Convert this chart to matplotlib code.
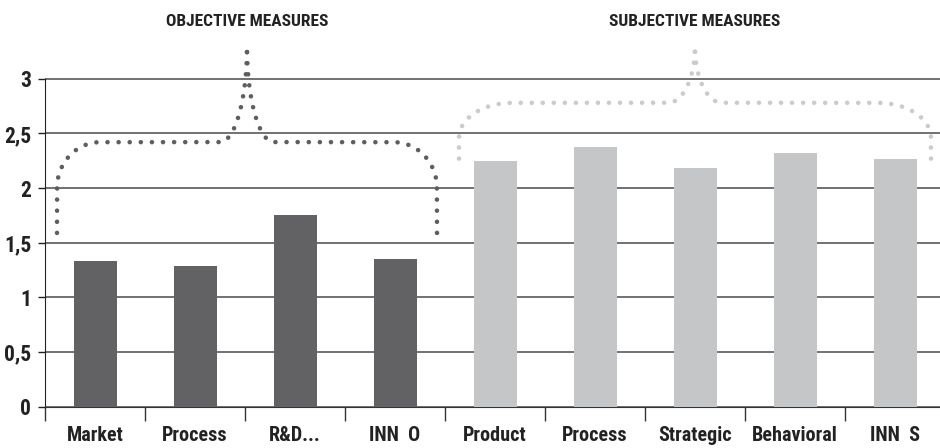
import numpy as np
import matplotlib
matplotlib.use("Agg")
import matplotlib.pyplot as plt
from matplotlib import font_manager

# pick a condensed face if one is installed
cond = [f for f in font_manager.fontManager.ttflist if f.stretch == "condensed"]
prefer = ["Liberation Sans Narrow", "Roboto Condensed", "DejaVu Sans",
          "Noto Sans", "Open Sans", "Liberation Sans"]
font_name = "DejaVu Sans"
for p in prefer:
    if any(f.name == p for f in cond):
        font_name = p
        break
plt.rcParams['font.family'] = [font_name, 'DejaVu Sans']
plt.rcParams['font.stretch'] = 'condensed'

# categories / values
labels = ["Market", "Process", "R&D...", "INN  O",
          "Product", "Process", "Strategic", "Behavioral", "INN  S"]
values = [1.33, 1.29, 1.75, 1.35, 2.25, 2.38, 2.18, 2.32, 2.27]
groups = ["obj"] * 4 + ["subj"] * 5
group_titles = ["OBJECTIVE MEASURES", "SUBJECTIVE MEASURES"]
yticks = [0, 0.5, 1, 1.5, 2, 2.5, 3]
ytick_labels = ["0", "0,5", "1", "1,5", "2", "2,5", "3"]

colors = {"obj": "#626264", "subj": "#c5c6c8"}
dot_colors = {"obj": "#5e5e60", "subj": "#cbcbcd"}

# brace settings: x0, x1, end y, plateau y, peak y, corner rx, corner ry
braces = {
    "obj": (-0.38, 3.42, 1.59, 2.42, 3.29, 0.43, 0.42),
    "subj": (3.64, 8.36, 2.27, 2.78, 3.29, 0.53, 0.32),
}


def half_brace(x0, x1, y_end, y_flat, y_peak, rx, ry, cw=0.27, n=200):
    # left half, from the end of the leg up to the cusp
    c = (x0 + x1) / 2
    t = np.linspace(0, np.pi / 2, n)
    xs = [np.full(n, x0)]
    ys = [np.linspace(y_end, y_flat - ry, n)]
    xs.append(x0 + rx - rx * np.cos(t))
    ys.append(y_flat - ry + ry * np.sin(t))
    xs.append(np.linspace(x0 + rx, c - cw, n))
    ys.append(np.full(n, y_flat))
    xs.append(c - cw + cw * np.sin(t))
    ys.append(y_peak - (y_peak - y_flat) * np.cos(t))
    return np.concatenate(xs), np.concatenate(ys), c


fig = plt.figure(figsize=(9.4, 4.48), dpi=100)
ax = fig.add_axes([45 / 940, 41.3 / 448, 895 / 940, 360.7 / 448])

x = np.arange(len(labels))
ax.bar(x, values, width=0.43, color=[colors[g] for g in groups], zorder=3)

ax.set_xlim(-0.5, 8.45)
ax.set_ylim(0, 3.3)

ax.set_yticks(yticks)
ax.set_yticklabels(ytick_labels)
ax.yaxis.grid(True, color="#4a4a4a", linewidth=1.1, zorder=1)
ax.set_axisbelow(True)

ax.set_xticks(x)
ax.set_xticklabels(labels)
ax.set_xticks(np.arange(-0.5, 8.5, 1), minor=True)
ax.tick_params(axis="x", which="major", length=0, pad=14, labelsize=14.5)
ax.tick_params(axis="x", which="minor", length=10, width=1, color="#333333",
               direction="out")
ax.tick_params(axis="y", length=5, width=1, color="#222222", labelsize=15.5, pad=5)
for lab in ax.get_xticklabels() + ax.get_yticklabels():
    lab.set_fontweight("bold")
    lab.set_color("#222222")

for s in ["top", "right"]:
    ax.spines[s].set_visible(False)
ax.spines["left"].set_bounds(0, 3)
ax.spines["left"].set_color("#222222")
ax.spines["bottom"].set_color("#333333")

# dotted braces (two mirrored halves) + group titles
lw = 3.3
lw_px = lw * fig.dpi / 72
for g, title in zip(["obj", "subj"], group_titles):
    hx, hy, cx = half_brace(*braces[g])
    # spread the dots so one lands on each end of the half
    pts = ax.transData.transform(np.column_stack([hx, hy]))
    length = np.sum(np.hypot(*np.diff(pts, axis=0).T))
    k = max(1, round(length / 11.2))
    gap = (length / k) / lw_px * 0.985 - 0.01
    for bx in (hx, 2 * cx - hx):
        ax.plot(bx, hy, color=dot_colors[g], linewidth=lw,
                linestyle=(0, (0.01, gap)), dash_capstyle="round",
                clip_on=False, zorder=4)
    ax.annotate(title, xy=(cx, 1.0), xycoords=("data", "figure fraction"),
                xytext=(0, -21), textcoords="offset pixels",
                ha="center", va="center", fontsize=12.5, fontweight="bold",
                color="#222222")

fig.savefig("out.png", dpi=100)
